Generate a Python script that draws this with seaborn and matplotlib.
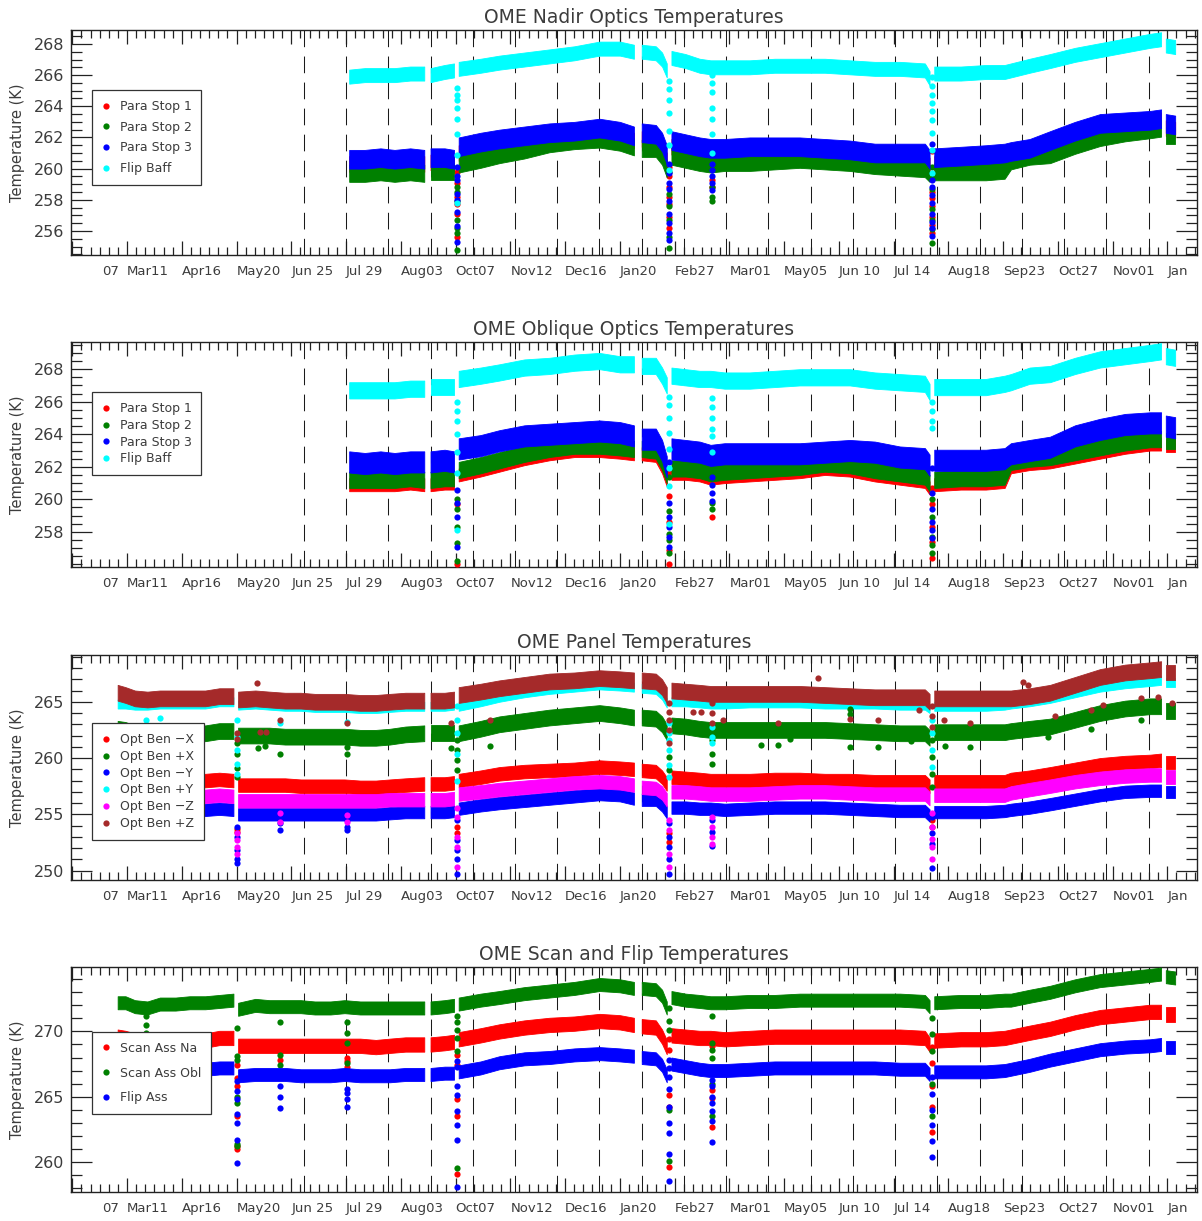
import matplotlib
matplotlib.use("Agg")
import matplotlib.pyplot as plt
import pandas as pd
import seaborn as sns
from matplotlib.lines import Line2D
from matplotlib.ticker import FixedLocator, MultipleLocator
from matplotlib.transforms import ScaledTranslation

# ---------------- time axis (mission day) ----------------
tick_days = [0, 35, 70, 105, 140, 175, 210, 245, 280, 315, 350, 385, 420,
             455, 490, 525, 560, 595, 630, 665, 700]
tick_labels = ["07", "Mar11", "Apr16", "May20", "Jun 25", "Jul 29", "Aug03",
               "Oct07", "Nov12", "Dec16", "Jan20", "Feb27", "Mar01", "May05",
               "Jun 10", "Jul 14", "Aug18", "Sep23", "Oct27", "Nov01", "Jan"]
rotation_days = [148, 175, 202, 229, 256, 283, 310, 337, 364, 391, 418, 445,
                 472, 499, 526, 553, 580, 607, 634, 661, 688]

# ---------------- optics panels: sample days (None = data gap) ----------------
optics_days = [177, 187, 197, 206, 216, 225, None,
               229, 238, 244, None,
               247, 261, 273, 289, 305, 321, 337, 350, 359, None,
               364, 373, 377, 380, None,
               383, 392, 401, 408, 417, 433, 449, 465, 481, 497, 513, 529, 545, 548, None,
               551, 568, 584, 596, 600, 612, 625, 641, 657, 673, 689, 696, None,
               699, 705]

nadir_stop1 = [260.3, 260.3, 260.4, 260.3, 260.4, 260.3, None,
               260.4, 260.4, 260.3, None,
               261.0, 261.3, 261.5, 261.8, 262.1, 262.2, 262.3, 262.1, 261.8, None,
               261.9, 261.8, 261.3, 260.5, None,
               261.4, 261.2, 261.0, 260.9, 260.9, 261.0, 261.0, 261.1, 261.0, 260.9, 260.7, 260.6, 260.6, 260.2, None,
               260.3, 260.4, 260.5, 260.6, 260.9, 261.1, 261.4, 262.0, 262.5, 262.8, 263.0, 263.1, None,
               262.6, 262.5]
nadir_stop2 = [259.7, 259.7, 259.8, 259.7, 259.8, 259.7, None,
               259.8, 259.8, 259.8, None,
               260.3, 260.6, 260.9, 261.2, 261.6, 261.8, 261.9, 261.7, 261.4, None,
               261.3, 261.3, 260.8, 260.0, None,
               260.8, 260.6, 260.4, 260.3, 260.4, 260.4, 260.5, 260.6, 260.5, 260.4, 260.2, 260.1, 260.0, 259.7, None,
               259.8, 259.8, 259.8, 259.9, 260.5, 260.8, 260.9, 261.5, 262.0, 262.3, 262.5, 262.6, None,
               262.1, 262.1]
nadir_stop3 = [260.6, 260.6, 260.7, 260.6, 260.7, 260.6, None,
               260.7, 260.7, 260.6, None,
               261.4, 261.7, 261.9, 262.1, 262.3, 262.4, 262.6, 262.4, 262.1, None,
               262.3, 262.2, 261.7, 260.9, None,
               261.8, 261.6, 261.4, 261.3, 261.3, 261.4, 261.4, 261.4, 261.3, 261.2, 261.0, 261.0, 261.0, 260.6, None,
               260.7, 260.8, 260.9, 261.0, 261.1, 261.3, 261.8, 262.4, 262.9, 263.0, 263.1, 263.2, None,
               262.9, 262.8]
nadir_flip = [265.9, 266.0, 266.0, 266.0, 266.1, 266.1, None,
              266.0, 266.2, 266.3, None,
              266.4, 266.6, 266.8, 267.0, 267.2, 267.4, 267.7, 267.7, 267.5, None,
              267.5, 267.4, 267.0, 266.3, None,
              267.1, 266.9, 266.6, 266.5, 266.5, 266.5, 266.6, 266.6, 266.6, 266.5, 266.4, 266.4, 266.3, 265.8, None,
              266.1, 266.1, 266.2, 266.2, 266.3, 266.6, 266.9, 267.3, 267.6, 267.9, 268.2, 268.3, None,
              267.9, 267.8]

obl_stop1 = [260.9, 260.9, 260.9, 260.9, 261.0, 260.9, None,
             260.9, 261.0, 261.0, None,
             261.5, 261.8, 262.1, 262.5, 262.8, 263.0, 263.0, 262.9, 262.8, None,
             262.8, 262.7, 262.0, 261.2, None,
             261.6, 261.6, 261.5, 261.3, 261.4, 261.5, 261.6, 261.7, 261.9, 261.8, 261.5, 261.3, 261.1, 260.7, None,
             260.9, 261.0, 261.0, 261.1, 262.0, 262.2, 262.3, 262.6, 262.9, 263.2, 263.4, 263.4, None,
             263.3, 263.3]
obl_stop2 = [261.2, 261.2, 261.2, 261.2, 261.3, 261.2, None,
             261.2, 261.3, 261.3, None,
             261.8, 262.1, 262.4, 262.8, 263.1, 263.3, 263.3, 263.2, 263.1, None,
             263.1, 263.0, 262.3, 261.5, None,
             261.9, 261.9, 261.8, 261.6, 261.7, 261.8, 261.9, 262.0, 262.2, 262.1, 261.8, 261.6, 261.4, 261.0, None,
             261.2, 261.3, 261.3, 261.4, 262.3, 262.5, 262.6, 262.9, 263.2, 263.5, 263.7, 263.7, None,
             263.6, 263.6]
obl_stop3 = [262.3, 262.2, 262.3, 262.2, 262.3, 262.3, None,
             262.3, 262.4, 262.3, None,
             263.1, 263.3, 263.6, 263.9, 264.0, 264.1, 264.2, 264.1, 263.9, None,
             263.7, 263.7, 263.0, 262.0, None,
             263.1, 263.0, 262.9, 262.7, 262.8, 262.8, 262.8, 262.8, 262.9, 263.0, 262.9, 262.6, 262.5, 262.1, None,
             262.4, 262.4, 262.4, 262.5, 262.8, 263.0, 263.2, 263.9, 264.3, 264.6, 264.7, 264.7, None,
             264.5, 264.4]
obl_flip = [266.7, 266.7, 266.7, 266.7, 266.8, 266.8, None,
            266.9, 266.9, 266.9, None,
            267.4, 267.6, 267.8, 268.1, 268.2, 268.4, 268.5, 268.3, 268.3, None,
            268.2, 268.2, 267.6, 267.0, None,
            267.6, 267.5, 267.4, 267.4, 267.3, 267.3, 267.4, 267.5, 267.5, 267.5, 267.3, 267.2, 267.1, 266.6, None,
            266.9, 266.9, 266.9, 267.1, 267.2, 267.6, 267.7, 268.2, 268.6, 268.8, 269.0, 269.1, None,
            268.8, 268.7]

# cool-down excursions: {day: [temperatures]}
nadir_stop1_dips = {246: [259.8, 259.1, 258.2, 257.7, 257.1, 255.6],
                    381.5: [260.1, 259.5, 258.8, 258.2, 257.7, 256.9, 256.2],
                    409: [260.1, 259.3, 258.8],
                    549.5: [261.1, 258.5, 258.1, 257.6, 256.9, 256.4, 255.9]}
nadir_stop2_dips = {246: [258.8, 258.5, 257.9, 256.7, 256.2, 255.9, 254.8],
                    381.5: [259.8, 258.4, 257.6, 256.7, 255.6, 254.9],
                    409: [258.8, 258.2, 257.9],
                    549.5: [260.1, 259.4, 258.7, 257.4, 256.7, 256.1, 255.2]}
nadir_stop3_dips = {246: [260.1, 259.5, 259.3, 258.4, 258.0, 257.2, 256.3, 255.3],
                    381.5: [260.3, 259.7, 259.1, 258.7, 257.9, 257.1, 256.5, 255.9, 255.4],
                    409: [260.3, 259.9, 259.5, 259.1, 258.6],
                    549.5: [261.6, 259.3, 258.8, 258.3, 257.8, 257.1, 256.6, 256.2, 255.7]}
nadir_flip_dips = {246: [265.2, 264.7, 264.4, 263.9, 263.2, 262.2, 260.9, 257.8],
                   381.5: [265.6, 265.1, 264.4, 263.6, 262.4, 261.5, 259.9],
                   409: [266.0, 265.5, 264.9, 263.9, 263.2, 262.2, 261.0],
                   549.5: [265.9, 265.3, 264.7, 264.2, 263.7, 263.1, 262.3, 261.2, 259.7]}

obl_stop1_dips = {246: [259.7, 256.0],
                  381.5: [261.7, 260.2, 258.6, 256.9, 256.0],
                  409: [258.9],
                  549.5: [260.7, 259.7, 258.3, 257.4, 256.4]}
obl_stop2_dips = {246: [260.0, 259.4, 258.3, 257.3, 256.2],
                  381.5: [261.4, 259.3, 257.9, 257.5, 256.7],
                  409: [259.8, 259.4],
                  549.5: [260.0, 258.9, 257.7, 257.2, 256.7]}
obl_stop3_dips = {246: [260.6, 259.8, 258.9, 257.1],
                  381.5: [262.3, 259.8, 258.9, 258.3, 257.7, 257.1],
                  409: [261.4, 260.9, 260.4, 259.9],
                  549.5: [261.9, 260.4, 259.4, 258.6, 258.1, 257.6]}
obl_flip_dips = {246: [266.0, 265.4, 264.8, 264.0, 262.9, 261.6, 258.1],
                 381.5: [266.3, 265.8, 265.0, 264.1, 263.1, 261.9, 260.8, 258.5],
                 409: [266.2, 265.7, 265.0, 264.3, 263.9, 262.9],
                 549.5: [266.0, 265.4, 264.8, 264.4]}

# ---------------- panel / scan panels: sample days ----------------
bench_days = [29, 34, 40, 48, 56, 66, 75, 85, 94, 103, None,
              106, 117, 126, 136, 146, 155, 165, 174, 184, 194, 203, 213, 225, None,
              229, 238, 244, None,
              247, 261, 273, 289, 305, 321, 337, 350, 359, None,
              364, 373, 377, 380, None,
              383, 392, 401, 408, 417, 433, 449, 465, 481, 497, 513, 529, 545, 548, None,
              551, 568, 584, 596, 600, 612, 625, 641, 657, 673, 689, 696, None,
              699, 705]

ben_mx = [257.7, 257.7, 257.7, 257.8, 257.8, 257.8, 257.9, 258.0, 258.1, 258.0, None,
          257.6, 257.6, 257.6, 257.6, 257.5, 257.5, 257.5, 257.5, 257.4, 257.4, 257.5, 257.6, 257.7, None,
          257.7, 257.7, 257.8, None,
          258.0, 258.3, 258.6, 258.8, 258.9, 259.0, 259.2, 259.1, 259.0, None,
          258.9, 258.8, 258.3, 257.7, None,
          258.3, 258.2, 258.1, 258.0, 258.0, 258.0, 258.1, 258.1, 258.0, 258.0, 257.9, 257.9, 257.9, 257.5, None,
          257.9, 257.9, 257.9, 257.9, 258.1, 258.3, 258.6, 259.0, 259.4, 259.6, 259.7, 259.8, None,
          259.6, 259.6]
ben_px = [262.6, 262.5, 262.2, 262.1, 262.1, 262.1, 262.2, 262.2, 262.4, 262.4, None,
          262.0, 262.0, 262.0, 261.9, 261.9, 261.9, 261.9, 261.9, 261.8, 261.8, 261.9, 262.1, 262.2, None,
          262.2, 262.2, 262.2, None,
          262.2, 262.6, 263.0, 263.3, 263.6, 263.8, 264.0, 263.8, 263.6, None,
          263.6, 263.5, 263.0, 262.3, None,
          262.9, 262.8, 262.6, 262.5, 262.5, 262.5, 262.5, 262.5, 262.5, 262.4, 262.3, 262.2, 262.2, 261.8, None,
          262.3, 262.3, 262.3, 262.3, 262.4, 262.6, 262.8, 263.4, 264.0, 264.4, 264.6, 264.6, None,
          264.2, 264.2]
ben_my = [255.2, 255.2, 255.2, 255.3, 255.3, 255.3, 255.3, 255.4, 255.5, 255.4, None,
          255.0, 255.0, 255.0, 255.0, 255.0, 255.0, 255.0, 255.0, 255.0, 255.0, 255.1, 255.2, 255.2, None,
          255.2, 255.2, 255.3, None,
          255.5, 255.8, 256.0, 256.2, 256.4, 256.6, 256.8, 256.7, 256.4, None,
          256.3, 256.3, 255.8, 255.2, None,
          255.6, 255.6, 255.5, 255.5, 255.4, 255.5, 255.6, 255.6, 255.6, 255.5, 255.4, 255.3, 255.3, 254.9, None,
          255.2, 255.2, 255.2, 255.3, 255.4, 255.6, 255.9, 256.3, 256.7, 257.0, 257.1, 257.1, None,
          257.0, 257.0]
ben_py = [264.8, 264.8, 264.7, 264.7, 264.8, 264.8, 264.8, 264.8, 265.0, 265.0, None,
          264.7, 264.8, 264.7, 264.6, 264.6, 264.5, 264.5, 264.5, 264.4, 264.4, 264.5, 264.6, 264.6, None,
          264.6, 264.6, 264.7, None,
          264.6, 265.0, 265.4, 265.8, 266.1, 266.3, 266.5, 266.4, 266.3, None,
          266.2, 266.1, 265.6, 264.9, None,
          265.0, 265.0, 264.9, 264.8, 264.8, 264.9, 264.9, 264.9, 264.8, 264.8, 264.8, 264.7, 264.7, 264.4, None,
          264.6, 264.6, 264.6, 264.7, 264.8, 265.0, 265.3, 265.8, 266.3, 266.6, 266.8, 266.9, None,
          266.7, 266.7]
ben_mz = [256.4, 256.4, 256.4, 256.5, 256.5, 256.5, 256.5, 256.6, 256.7, 256.6, None,
          256.2, 256.2, 256.2, 256.2, 256.2, 256.2, 256.2, 256.2, 256.2, 256.2, 256.3, 256.3, 256.3, None,
          256.3, 256.3, 256.4, None,
          256.8, 257.0, 257.2, 257.4, 257.6, 257.8, 257.9, 257.8, 257.6, None,
          257.4, 257.3, 256.9, 256.3, None,
          257.0, 257.0, 256.9, 256.8, 256.8, 256.8, 256.9, 257.0, 257.0, 256.9, 256.8, 256.8, 256.8, 256.4, None,
          256.7, 256.7, 256.7, 256.7, 256.9, 257.2, 257.5, 257.9, 258.2, 258.4, 258.5, 258.5, None,
          258.3, 258.3]
ben_pz = [265.8, 265.6, 265.3, 265.2, 265.3, 265.3, 265.3, 265.3, 265.5, 265.5, None,
          265.2, 265.3, 265.2, 265.1, 265.1, 265.0, 265.0, 265.0, 264.9, 264.9, 265.0, 265.1, 265.1, None,
          265.1, 265.1, 265.2, None,
          265.6, 265.9, 266.2, 266.5, 266.8, 266.9, 267.1, 267.0, 266.9, None,
          266.9, 266.8, 266.3, 265.6, None,
          266.0, 265.9, 265.8, 265.7, 265.7, 265.7, 265.7, 265.7, 265.6, 265.5, 265.4, 265.4, 265.4, 265.0, None,
          265.3, 265.3, 265.3, 265.3, 265.3, 265.5, 265.8, 266.5, 267.2, 267.6, 267.8, 267.9, None,
          267.6, 267.6]

ben_mx_dips = {105: [253.7, 253.4], 246: [253.9, 253.3],
               381.5: [253.3, 252.5], 549.5: [254.5, 253.9]}
ben_px_dips = {105: [261.3, 260.4, 259.1, 258.3], 133: [260.4],
               175.5: [261.0, 260.4], 246: [261.6, 260.7, 259.8, 258.9],
               381.5: [260.1, 258.9], 409: [262.5, 261.6, 260.4, 259.5],
               549.5: [261.6, 260.1, 258.6, 257.4]}
ben_my_dips = {105: [253.9, 253.0, 251.8, 251.0, 250.7], 133: [254.2, 253.6],
               175.5: [254.5, 253.9, 253.6], 246: [254.5, 252.7, 251.8, 251.0, 249.7],
               381.5: [254.2, 253.0, 252.1, 251.0, 249.7], 409: [254.5, 253.4, 252.2],
               549.5: [254.8, 253.3, 252.4, 250.2]}
ben_py_dips = {47: [263.4], 56: [263.6], 105: [263.4, 261.9, 260.7, 259.5, 258.6],
               133: [263.1], 175.5: [263.2], 246: [264.6, 263.4, 262.2, 260.4, 258.0],
               381.5: [263.1, 262.2, 261.6, 260.7, 259.4, 258.3], 409: [262.8, 261.9, 261.3],
               549.5: [263.4, 262.2, 260.7, 259.2]}
ben_mz_dips = {105: [253.3, 252.7, 252.1, 251.5], 133: [255.1, 254.3],
               175.5: [254.9, 254.3], 246: [255.6, 254.8, 253.0, 252.1, 250.3],
               381.5: [254.5, 253.6, 251.5, 250.3], 409: [254.8, 253.9, 253.0, 252.4],
               549.5: [255.1, 253.9, 252.8, 252.1, 251.0]}
ben_pz_dips = {105: [262.2, 261.7], 133: [263.4], 175.5: [263.1],
               381.5: [264.9, 264.1, 263.4, 262.5, 261.3], 409: [264.9, 264.0, 263.1],
               549.5: [264.6, 263.7, 262.8]}

# isolated readings away from the main tracks: (day, temperature)
ben_pz_outliers = [(118, 266.7), (120, 262.3), (124, 262.3), (242, 263.1), (267, 263.4),
                   (397, 264.1), (402, 264.1), (416, 263.4), (451, 263.1), (477, 267.1),
                   (497, 263.5), (515, 263.4), (541, 264.3), (557, 263.4), (574, 263.1),
                   (608, 266.8), (611, 266.5), (628, 263.7), (651, 264.3), (659, 264.7),
                   (683, 265.3), (694, 265.4), (703, 264.9)]
ben_px_outliers = [(119, 260.9), (123, 261.1), (242, 260.9), (267, 261.1), (440, 261.2),
                   (451, 261.2), (459, 261.7), (497, 264.4), (497, 263.9), (497, 261.0),
                   (515, 261.0), (536, 261.5), (558, 261.1), (574, 261.0), (624, 261.9),
                   (651, 262.6), (683, 263.4)]

scan_na = [269.6, 269.5, 269.3, 269.3, 269.3, 269.3, 269.3, 269.3, 269.5, 269.5, None,
           268.9, 268.9, 268.9, 268.9, 268.9, 268.9, 268.9, 268.9, 268.9, 268.8, 268.9, 269.0, 269.0, None,
           269.0, 269.1, 269.2, None,
           269.4, 269.7, 270.0, 270.3, 270.5, 270.6, 270.8, 270.7, 270.5, None,
           270.4, 270.3, 269.6, 268.8, None,
           269.7, 269.6, 269.5, 269.5, 269.4, 269.5, 269.6, 269.6, 269.6, 269.6, 269.6, 269.6, 269.5, 269.0, None,
           269.3, 269.4, 269.4, 269.5, 269.6, 269.9, 270.2, 270.7, 271.1, 271.3, 271.5, 271.5, None,
           271.3, 271.3]
scan_obl = [272.2, 272.2, 271.9, 271.8, 272.1, 272.1, 272.2, 272.2, 272.3, 272.4, None,
            271.7, 272.0, 271.9, 271.9, 271.9, 271.8, 271.8, 271.9, 271.8, 271.8, 271.8, 271.8, 271.8, None,
            271.8, 271.9, 272.0, None,
            272.1, 272.4, 272.6, 272.9, 273.1, 273.3, 273.6, 273.5, 273.3, None,
            273.3, 273.2, 272.7, 271.8, None,
            272.6, 272.4, 272.3, 272.2, 272.2, 272.3, 272.3, 272.4, 272.4, 272.4, 272.4, 272.4, 272.3, 271.9, None,
            272.2, 272.3, 272.3, 272.4, 272.4, 272.7, 273.0, 273.5, 273.9, 274.1, 274.3, 274.4, None,
            274.2, 274.1]
flip_ass = [267.0, 267.0, 266.9, 266.9, 266.9, 267.0, 267.0, 267.1, 267.2, 267.2, None,
            266.6, 266.7, 266.7, 266.7, 266.6, 266.6, 266.6, 266.7, 266.6, 266.6, 266.6, 266.7, 266.7, None,
            266.7, 266.8, 266.8, None,
            266.9, 267.2, 267.6, 267.9, 268.0, 268.2, 268.3, 268.2, 268.1, None,
            268.0, 267.9, 267.4, 266.6, None,
            267.5, 267.3, 267.1, 267.0, 267.0, 267.1, 267.2, 267.2, 267.2, 267.2, 267.2, 267.1, 267.1, 266.7, None,
            266.9, 266.9, 266.9, 267.0, 267.1, 267.4, 267.8, 268.2, 268.6, 268.8, 268.9, 269.0, None,
            268.8, 268.8]

scan_na_dips = {105: [267.4, 266.4, 265.8, 263.5, 261.2, 261.0], 133: [268.4, 267.8],
                175.5: [268.0, 267.7, 267.3], 246: [268.2, 267.4, 264.8, 263.5, 259.1],
                381.5: [269.4, 268.6, 265.1, 264.2, 259.6],
                409: [269.6, 268.9, 266.8, 265.5, 264.9, 262.7],
                549.5: [268.8, 267.6, 265.8, 264.2, 262.3]}
scan_obl_dips = {47: [271.2, 270.5, 269.9],
                 105: [270.3, 268.1, 267.8, 265.0, 264.5, 261.4, 261.2],
                 133: [270.7, 268.2, 267.4], 175.5: [270.7, 269.9, 269.1, 267.6],
                 246: [271.2, 270.7, 270.1, 269.5, 268.5, 259.5],
                 381.5: [271.8, 270.8, 270.1, 264.0, 260.1],
                 409: [271.2, 269.1, 268.6, 268.0, 266.0, 263.5],
                 549.5: [271.0, 269.8, 268.5, 266.0, 263.5]}
flip_ass_dips = {105: [266.2, 265.4, 264.8, 263.7, 263.0, 261.7, 259.9],
                 133: [265.8, 265.0, 264.1], 175.5: [265.6, 265.3, 264.8, 264.2],
                 246: [267.7, 267.3, 265.8, 265.1, 263.9, 262.8, 261.7, 258.1],
                 381.5: [267.8, 267.2, 266.5, 265.6, 264.2, 263.0, 262.2, 260.6, 258.5],
                 409: [266.3, 265.8, 265.0, 264.5, 263.9, 263.1, 261.5],
                 549.5: [266.5, 265.2, 264.0, 262.8, 261.6, 260.4]}

# ---------------- styling ----------------
RED, GREEN, BLUE = "#ff0000", "#008000", "#0000ff"
CYAN, MAGENTA, BROWN = "#00ffff", "#ff00ff", "#a52a2a"
INK = "#3c3c3c"

sns.set_theme(style="ticks")
plt.rcParams["font.family"] = ["DejaVu Sans"]
plt.rcParams["axes.edgecolor"] = "#222222"
plt.rcParams["axes.linewidth"] = 1.0

FIG_W, FIG_H = 12.02, 12.21
fig = plt.figure(figsize=(FIG_W, FIG_H), dpi=100)

# each series: (label, colour, centre temperatures, scatter spread in K, excursions)
panels = [
    dict(title="OME Nadir Optics Temperatures", bottom=0.7912, ylim=(254.46, 268.90),
         majors=[256, 258, 260, 262, 264, 266, 268], minor=0.5, days=optics_days,
         legend_top=0.733, spacing=0.62,
         series=[("Para Stop 1", RED, nadir_stop1, 1.0, nadir_stop1_dips),
                 ("Para Stop 2", GREEN, nadir_stop2, 1.1, nadir_stop2_dips),
                 ("Para Stop 3", BLUE, nadir_stop3, 1.2, nadir_stop3_dips),
                 ("Flip Baff", CYAN, nadir_flip, 0.9, nadir_flip_dips)],
         outliers=[]),
    dict(title="OME Oblique Optics Temperatures", bottom=0.5356, ylim=(255.84, 269.67),
         majors=[258, 260, 262, 264, 266, 268], minor=0.5, days=optics_days,
         legend_top=0.777, spacing=0.3,
         series=[("Para Stop 1", RED, obl_stop1, 0.8, obl_stop1_dips),
                 ("Para Stop 2", GREEN, obl_stop2, 1.0, obl_stop2_dips),
                 ("Para Stop 3", BLUE, obl_stop3, 1.3, obl_stop3_dips),
                 ("Flip Baff", CYAN, obl_flip, 1.0, obl_flip_dips)],
         outliers=[]),
    dict(title="OME Panel Temperatures", bottom=0.2793, ylim=(249.17, 269.16),
         majors=[250, 255, 260, 265], minor=1.0, days=bench_days,
         legend_top=0.697, spacing=0.3,
         series=[("Opt Ben \u2212X", RED, ben_mx, 1.2, ben_mx_dips),
                 ("Opt Ben +X", GREEN, ben_px, 1.4, ben_px_dips),
                 ("Opt Ben \u2212Y", BLUE, ben_my, 1.1, ben_my_dips),
                 ("Opt Ben +Y", CYAN, ben_py, 0.8, ben_py_dips),
                 ("Opt Ben \u2212Z", MAGENTA, ben_mz, 1.2, ben_mz_dips),
                 ("Opt Ben +Z", BROWN, ben_pz, 1.4, ben_pz_dips)],
         outliers=[(GREEN, ben_px_outliers), (BROWN, ben_pz_outliers)]),
    dict(title="OME Scan and Flip Temperatures", bottom=0.0238, ylim=(257.69, 274.95),
         majors=[260, 265, 270], minor=1.0, days=bench_days,
         legend_top=0.712, spacing=0.95,
         series=[("Scan Ass Na", RED, scan_na, 1.1, scan_na_dips),
                 ("Scan Ass Obl", GREEN, scan_obl, 1.0, scan_obl_dips),
                 ("Flip Ass", BLUE, flip_ass, 1.0, flip_ass_dips)],
         outliers=[]),
]

AX_LEFT, AX_WIDTH, AX_HEIGHT = 0.0591, 0.9368, 0.1843


def band_frame(days, temps, spread):
    """Lower and upper edge of the scatter band at every sample day."""
    rows, seg = [], 0
    for d, t in zip(days, temps, strict=True):
        if d is None:
            seg += 1
            continue
        rows.append((d, t - spread / 2, seg))
        rows.append((d, t + spread / 2, seg))
    return pd.DataFrame(rows, columns=["day", "temp", "seg"])


def dip_frame(dips):
    return pd.DataFrame([(d, t) for d, ts in dips.items() for t in ts],
                        columns=["day", "temp"])


for spec in panels:
    ax = fig.add_axes([AX_LEFT, spec["bottom"], AX_WIDTH, AX_HEIGHT])
    ymin, ymax = spec["ylim"]

    # solar-rotation markers
    for d in rotation_days:
        ax.axvline(d, color="#1a1a1a", lw=0.75, ls=(0, (16, 9)), zorder=1)

    handles = []
    for label, color, temps, spread, dips in spec["series"]:
        bdf = band_frame(spec["days"], temps, spread)
        segs = sorted(bdf["seg"].unique())
        sns.lineplot(data=bdf, x="day", y="temp", hue="seg",
                     palette={s: color for s in segs}, estimator="mean",
                     errorbar=("pi", 100), linewidth=0, legend=False, ax=ax,
                     err_kws={"alpha": 1, "linewidth": 0.6, "edgecolor": color,
                              "zorder": 3})
        sns.scatterplot(data=dip_frame(dips), x="day", y="temp", color=color,
                        s=20, linewidth=0, legend=False, ax=ax, zorder=3)
        handles.append(Line2D([], [], marker="o", linestyle="none",
                              markerfacecolor=color, markeredgewidth=0,
                              markersize=4.5, label=label))
    for color, pts in spec["outliers"]:
        odf = pd.DataFrame(pts, columns=["day", "temp"])
        sns.scatterplot(data=odf, x="day", y="temp", color=color, s=20,
                        linewidth=0, legend=False, ax=ax, zorder=3)

    ax.set_xlim(-0.8, 719.0)
    ax.set_ylim(ymin, ymax)
    ax.xaxis.set_major_locator(FixedLocator(tick_days))
    ax.xaxis.set_minor_locator(MultipleLocator(35 / 6))
    ax.set_xticklabels(tick_labels, ha="left")
    ax.yaxis.set_major_locator(FixedLocator(spec["majors"]))
    ax.yaxis.set_minor_locator(MultipleLocator(spec["minor"]))

    ax.tick_params(axis="both", which="both", direction="in", top=True, right=True,
                   color="#222222", width=0.9, labelcolor=INK)
    ax.tick_params(axis="x", which="major", length=10, labelsize=9.5, pad=7)
    ax.tick_params(axis="x", which="minor", length=5.5)
    ax.tick_params(axis="y", which="major", length=15, labelsize=11.5, pad=5)
    ax.tick_params(axis="y", which="minor", length=8)

    ax.set_xlabel("")
    ax.set_ylabel("Temperature (K)", fontsize=10.5, color=INK, labelpad=6)
    ax.set_title(spec["title"], fontsize=13.5, color=INK, pad=5)

    leg = ax.legend(handles=handles, loc="upper left",
                    bbox_to_anchor=(0.0187, spec["legend_top"]), borderaxespad=0,
                    frameon=True, fancybox=False, framealpha=1, facecolor="white",
                    edgecolor="#333333", fontsize=9, labelcolor=INK,
                    handlelength=0.6, handletextpad=0.8, borderpad=0.8,
                    labelspacing=spec["spacing"])
    leg.get_frame().set_linewidth(0.9)
    leg.set_zorder(10)

    # first label sits further right of its tick
    first = ax.get_xticklabels()[0]
    first.set_transform(first.get_transform()
                        + ScaledTranslation(0.30, 0, fig.dpi_scale_trans))

fig.savefig("out.png", dpi=100)
